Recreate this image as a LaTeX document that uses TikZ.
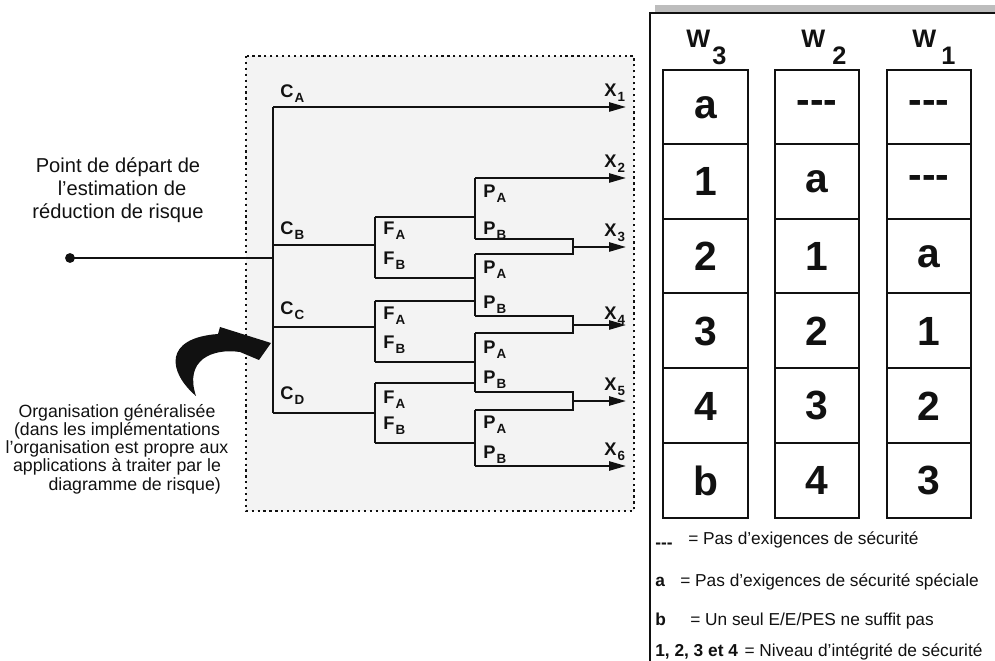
\documentclass[tikz,border=0pt]{standalone}
\usepackage{fontspec}
\setmainfont{Liberation Sans}
\usetikzlibrary{arrows.meta,positioning,calc}
\definecolor{rkInk}{HTML}{111111}
\definecolor{rkBoxBg}{HTML}{F3F3F3}
\definecolor{rkBar}{HTML}{BDBDBD}
% branch label: letter with lowered index
\newcommand{\brlbl}[2]{#1\kern0.8pt\raisebox{-3pt}{\fontsize{9.5}{10}\selectfont #2}}
\newcommand{\nodash}{-\kern0pt-\kern0pt-}
\tikzset{
  % tree lines
  wire/.style={line width=1.4pt,draw=rkInk},
  arr/.style={wire,-{Triangle[length=12pt,width=6.5pt]}},
  % branch labels
  brl/.style={anchor=base west,inner sep=0pt,
    font=\fontsize{13}{14}\selectfont\bfseries,text=rkInk},
  % dotted frame
  dotbox/.style={draw=rkInk,fill=rkBoxBg,line width=1.8pt,
    dash pattern=on 1.6pt off 2.6pt},
  % table
  colbox/.style={draw=rkInk,line width=1.9pt},
  rowline/.style={draw=rkInk,line width=1.4pt},
  cell/.style={inner sep=0pt,font=\fontsize{29}{30}\selectfont\bfseries,text=rkInk},
  whead/.style={anchor=base west,inner sep=0pt,
    font=\fontsize{18}{19}\selectfont\bfseries,text=rkInk},
  % legend
  keytxt/.style={anchor=base west,inner sep=0pt,
    font=\fontsize{12.3}{13}\selectfont\bfseries,text=rkInk},
  legtxt/.style={anchor=base west,inner sep=0pt,
    font=\fontsize{12.3}{13}\selectfont,text=rkInk},
  note/.style={align=center,inner sep=0pt,text=rkInk},
  dotpt/.style={circle,fill=rkInk,inner sep=0pt,minimum size=7pt},
}

\begin{document}
\begin{tikzpicture}[x=0.025cm,y=-0.025cm]
  \useasboundingbox (0,0) rectangle (995,661);

  % ---- risk graph frame
  \draw[dotbox] (246,56) rectangle (634,511);

  % ---- left notes
  \node[note,font=\fontsize{14.3}{16.4}\selectfont] (startnote) at (118,190)
    {Point de départ de\\\hspace*{0.4em}l’estimation de\\réduction de risque};
  \node[dotpt] (start) at (70,258) {};

  \node[note,font=\fontsize{12.6}{13}\selectfont] (orgnote) at (117,449)
    {Organisation généralisée\\(dans les implémentations\\l’organisation est propre aux\\
     applications à traiter par le\\\hspace*{2em}diagramme de risque)};
  \fill[rkInk] (196,396) .. controls (168,372) and (163,338) .. (218,334)
    -- (220,327) -- (271,343) -- (259,360) -- (240,352)
    .. controls (212,348) and (184,360) .. (196,396) -- cycle;

  % ---- tree points
  \coordinate (ca) at (273,107);
  \coordinate (cb) at (273,245);
  \coordinate (st) at (273,258);
  \coordinate (cc) at (273,327);
  \coordinate (cd) at (273,413);
  \coordinate (fb1) at (375,217); \coordinate (fb2) at (375,278);
  \coordinate (fc1) at (375,301); \coordinate (fc2) at (375,362);
  \coordinate (fd1) at (375,383); \coordinate (fd2) at (375,443);
  \coordinate (p1a) at (475,178); \coordinate (p1b) at (475,239);
  \coordinate (p2a) at (475,254); \coordinate (p2b) at (475,316);
  \coordinate (p3a) at (475,333); \coordinate (p3b) at (475,392);
  \coordinate (p4a) at (475,410); \coordinate (p4b) at (475,466);
  \coordinate (m3) at (573,247);
  \coordinate (m4) at (573,325);
  \coordinate (m5) at (573,401);
  \coordinate (x1) at (626,107); \coordinate (x2) at (626,178);
  \coordinate (x3) at (626,247); \coordinate (x4) at (626,325);
  \coordinate (x5) at (626,401); \coordinate (x6) at (626,466);

  % ---- tree lines
  \draw[wire] (start.center) -- (st);
  \draw[wire] (ca) -- (cd);
  \draw[wire] (cb) -- (cb-|fb1);
  \draw[wire] (cc) -- (cc-|fc1);
  \draw[wire] (cd) -- (cd-|fd1);
  \draw[wire] (fb1) -- (fb2);
  \draw[wire] (fc1) -- (fc2);
  \draw[wire] (fd1) -- (fd2);
  \foreach \f/\p in {fb1/p1a,fb2/p1a,fc1/p1a,fc2/p1a,fd1/p1a,fd2/p1a}
    \draw[wire] (\f) -- (\f-|\p);
  \draw[wire] (p1a) -- (p1b);
  \draw[wire] (p2a) -- (p2b);
  \draw[wire] (p3a) -- (p3b);
  \draw[wire] (p4a) -- (p4b);
  \draw[wire] (p1b) -- (p1b-|m3) -- (p2a-|m3) -- (p2a);
  \draw[wire] (p2b) -- (p2b-|m4) -- (p3a-|m4) -- (p3a);
  \draw[wire] (p3b) -- (p3b-|m5) -- (p4a-|m5) -- (p4a);
  \draw[arr] (ca) -- (x1);
  \draw[arr] (p1a) -- (x2);
  \draw[arr] (m3) -- (x3);
  \draw[arr] (m4) -- (x4);
  \draw[arr] (m5) -- (x5);
  \draw[arr] (p4b) -- (x6);

  % ---- tree labels
  \node[brl] (lca) at (280,98)  {\brlbl{C}{A}};
  \node[brl] (lcb) at (280,235) {\brlbl{C}{B}};
  \node[brl] (lcc) at (280,315) {\brlbl{C}{C}};
  \node[brl] (lcd) at (280,400) {\brlbl{C}{D}};
  \foreach \y/\s [count=\i] in {235/A,265/B,320/A,349/B,404/A,430/B}
    \node[brl] (lf\i) at (383,\y) {\brlbl{F}{\s}};
  \foreach \y/\s [count=\i] in {198/A,235/B,274/A,309/B,354/A,384/B,429/A,459/B}
    \node[brl] (lp\i) at (483,\y) {\brlbl{P}{\s}};
  \foreach \y [count=\i] in {97,168,237,320,391,456}
    \node[brl] (lx\i) at (604,\y) {\brlbl{X}{\i}};

  % ---- table frame
  \fill[rkBar] (655,5) rectangle (995,12);
  \draw[rkInk,line width=1.6pt] (650,661) -- (650,13) -- (995,13);

  % ---- columns W3, W2, W1
  \foreach \lx/\rx in {663/748,775/859,887/971} {
    \draw[colbox] (\lx,70) rectangle (\rx,518);
    \foreach \ry in {144,219,293,368,443}
      \draw[rowline] (\lx,\ry) -- (\rx,\ry);
  }
  \node[whead] (w3) at (686,48) {W};
  \node[whead] (w3i) at (712,65) {3};
  \node[whead] (w2) at (801,48) {W};
  \node[whead] (w2i) at (832,65) {2};
  \node[whead] (w1) at (912,48) {W};
  \node[whead] (w1i) at (941,65) {1};

  \foreach \t [count=\r from 0] in {a,1,2,3,4,b}
    \node[cell] (c3\r) at (705.5,107.3+74.67*\r) {\t};
  \foreach \t [count=\r from 0] in {\nodash,a,1,2,3,4}
    \node[cell] (c2\r) at (817,107.3+74.67*\r) {\t};
  \foreach \t [count=\r from 0] in {\nodash,\nodash,a,1,2,3}
    \node[cell] (c1\r) at (929,107.3+74.67*\r) {\t};

  % ---- legend
  \node[keytxt] (k1) at (655,545) {\raisebox{-2.5pt}{\nodash}};
  \node[legtxt] (t1) at (688,545) {= Pas d’exigences de sécurité};
  \node[keytxt] (k2) at (655,587) {a};
  \node[legtxt] (t2) at (680,587) {= Pas d’exigences de sécurité spéciale};
  \node[keytxt] (k3) at (655,626) {b};
  \node[legtxt] (t3) at (690,626) {= Un seul E/E/PES ne suffit pas};
  \node[keytxt] (k4) at (655,657) {1, 2, 3 et 4};
  \node[legtxt] (t4) at ($(k4.base east)+(6,0)$) {= Niveau d’intégrité de sécurité};
\end{tikzpicture}
\end{document}
